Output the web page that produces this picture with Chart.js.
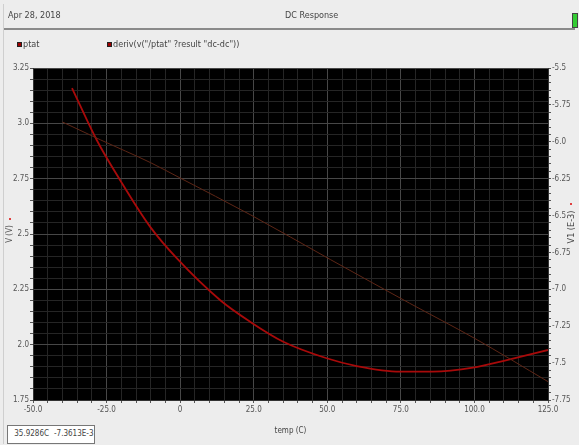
<!DOCTYPE html>
<html>
<head>
<meta charset="utf-8">
<script src="https://cdn.jsdelivr.net/npm/chart.js@4"></script>
<style>
  body { margin: 0; background: #ededed; font-family: "Liberation Sans Narrow", "DejaVu Sans Condensed", sans-serif; }
  #wrap { position: relative; width: 579px; height: 445px; overflow: hidden; }
  canvas { position: absolute; left: 0; top: 0; }
  .txt { position: absolute; font-size: 9px; color: #444; white-space: nowrap; }
  .sq { position: absolute; width: 3px; height: 3px; background: #a00000; border: 1px solid #222; }
</style>
</head>
<body>
<div id="wrap">
  <canvas id="chart" width="579" height="445"></canvas>
  <div style="position:absolute;left:3px;top:4px;width:1px;height:440px;background:#cfcfcf"></div>
  <div class="txt" style="left:8px;top:10px">Apr 28, 2018</div>
  <div class="txt" style="left:285px;top:10px">DC Response</div>
  <div style="position:absolute;left:572px;top:13px;width:4px;height:13px;background:#33cc33;border:1px solid #444"></div>
  <div style="position:absolute;left:4px;top:28px;width:571px;height:2px;background:#8a8a8a"></div>
  <div class="sq" style="left:17px;top:42px"></div>
  <div class="txt" style="left:23px;top:39px">ptat</div>
  <div class="sq" style="left:107px;top:42px"></div>
  <div class="txt" style="left:113px;top:39px">deriv(v("/ptat" ?result "dc-dc"))</div>
  <div class="txt" style="left:541px;top:222px;transform:rotate(-90deg);transform-origin:center;width:60px;text-align:center">V1 (E-3)</div>
  <div style="position:absolute;left:7px;top:425px;width:44px;height:17px;background:#fff;border:1px solid #777"></div>
  <div style="position:absolute;left:52px;top:425px;width:42px;height:17px;background:#fff;border:1px solid #777;border-left:none"></div>
  <div class="txt" style="left:7px;top:429px;width:42px;text-align:right;font-size:8px">35.9286C</div>
  <div class="txt" style="left:54px;top:429px;font-size:8px">-7.3613E-3</div>
</div>
<script>
// ptat voltage (left axis, V)
const ptatTemp = [-40, -27, -10, 0, 24, 51, 78, 100, 125];
const ptatV = [3.006, 2.925, 2.822, 2.753, 2.586, 2.385, 2.187, 2.029, 1.833];

// derivative (right axis, E-3)
const derivTemp = [-36.75, -28.35, -20.44, -10.24, -1.17, 13.54, 23.74, 35.05, 49.8, 60, 74.7, 85.9, 99.5, 111, 125];
const derivV = [-5.636, -5.988, -6.259, -6.575, -6.789, -7.072, -7.219, -7.355, -7.467, -7.52, -7.558, -7.558, -7.531, -7.479, -7.411];

const xTicks = [-50, -25, 0, 25, 50, 75, 100, 125];

const tickFont = { family: '"Liberation Sans Narrow", "DejaVu Sans Condensed", sans-serif', size: 8 };

function isMajor(v, step) {
  return Math.abs(v / step - Math.round(v / step)) < 1e-6;
}
function fmt(v) {
  let s = v.toFixed(2);
  if (s.endsWith("0")) s = v.toFixed(1);
  return s;
}

const bgPlugin = {
  id: "plotbg",
  beforeDraw(chart) {
    const a = chart.chartArea;
    const c = chart.ctx;
    c.save();
    c.fillStyle = "#000";
    c.fillRect(a.left, a.top, a.right - a.left, a.bottom - a.top);
    c.restore();
  },
  afterDraw(chart) {
    // small red marks next to the axis titles
    const c = chart.ctx;
    c.save();
    c.fillStyle = "#e04040";
    c.fillRect(9, 218, 2, 2);
    c.fillRect(570, 203, 2, 2);
    c.restore();
  }
};

const ctx = document.getElementById("chart").getContext("2d");
const chart = new Chart(ctx, {
  type: "line",
  data: {
    datasets: [
      {
        label: "ptat",
        data: ptatTemp.map((t, i) => ({ x: t, y: ptatV[i] })),
        borderColor: "#5e2616",
        borderWidth: 1,
        pointRadius: 0,
        cubicInterpolationMode: "monotone",
        yAxisID: "y",
      },
      {
        label: 'deriv(v("/ptat" ?result "dc-dc"))',
        data: derivTemp.map((t, i) => ({ x: t, y: derivV[i] })),
        borderColor: "#a80a0a",
        borderWidth: 1.8,
        pointRadius: 0,
        cubicInterpolationMode: "monotone",
        yAxisID: "y1",
      },
    ],
  },
  options: {
    responsive: false,
    animation: false,
    layout: { padding: { left: 0, right: 0, top: 68, bottom: 0 } },
    plugins: { legend: { display: false }, tooltip: { enabled: false } },
    scales: {
      x: {
        type: "linear",
        min: -50,
        max: 125,
        afterFit: (s) => { s.height = 45; },
        afterBuildTicks: (s) => {
          const t = [];
          for (let v = -50; v <= 125; v += 5) t.push({ value: v });
          s.ticks = t;
        },
        ticks: {
          autoSkip: false,
          maxRotation: 0,
          color: "#555",
          font: tickFont,
          padding: 2,
          callback: (v) => xTicks.includes(v) ? (v === 0 ? "0" : v.toFixed(1)) : "",
        },
        grid: {
          color: (c) => isMajor(c.tick.value, 25) ? "#474747" : "#252525",
          tickColor: "#555",
          tickLength: 3,
        },
        border: { color: "#333" },
        title: { display: true, text: "temp (C)", color: "#444", font: tickFont, padding: { top: 0, bottom: 9 } },
      },
      y: {
        position: "left",
        min: 1.75,
        max: 3.25,
        afterFit: (s) => { s.width = 33; },
        afterBuildTicks: (s) => {
          const t = [];
          for (let i = 0; i <= 30; i++) t.push({ value: 1.75 + i * 0.05 });
          s.ticks = t;
        },
        ticks: {
          autoSkip: false,
          color: "#555",
          font: tickFont,
          padding: 1,
          callback: (v) => isMajor(v, 0.25) ? fmt(v) : "",
        },
        grid: {
          color: (c) => isMajor(c.tick.value, 0.25) ? "#474747" : "#252525",
          tickColor: "#555",
          tickLength: 3,
        },
        border: { color: "#333" },
        title: { display: true, text: "V (V)", color: "#555", font: tickFont, padding: { top: 5, bottom: 0 } },
      },
      y1: {
        position: "right",
        min: -7.75,
        max: -5.5,
        afterFit: (s) => { s.width = 31; },
        afterBuildTicks: (s) => {
          const t = [];
          for (let i = 0; i <= 45; i++) t.push({ value: -7.75 + i * 0.05 });
          s.ticks = t;
        },
        ticks: {
          autoSkip: false,
          color: "#555",
          font: tickFont,
          padding: 1,
          callback: (v) => isMajor(v, 0.25) ? fmt(v) : "",
        },
        grid: {
          drawOnChartArea: false,
          tickColor: "#555",
          tickLength: 3,
        },
        border: { color: "#333" },
      },
    },
  },
  plugins: [bgPlugin],
});
</script>
</body>
</html>
